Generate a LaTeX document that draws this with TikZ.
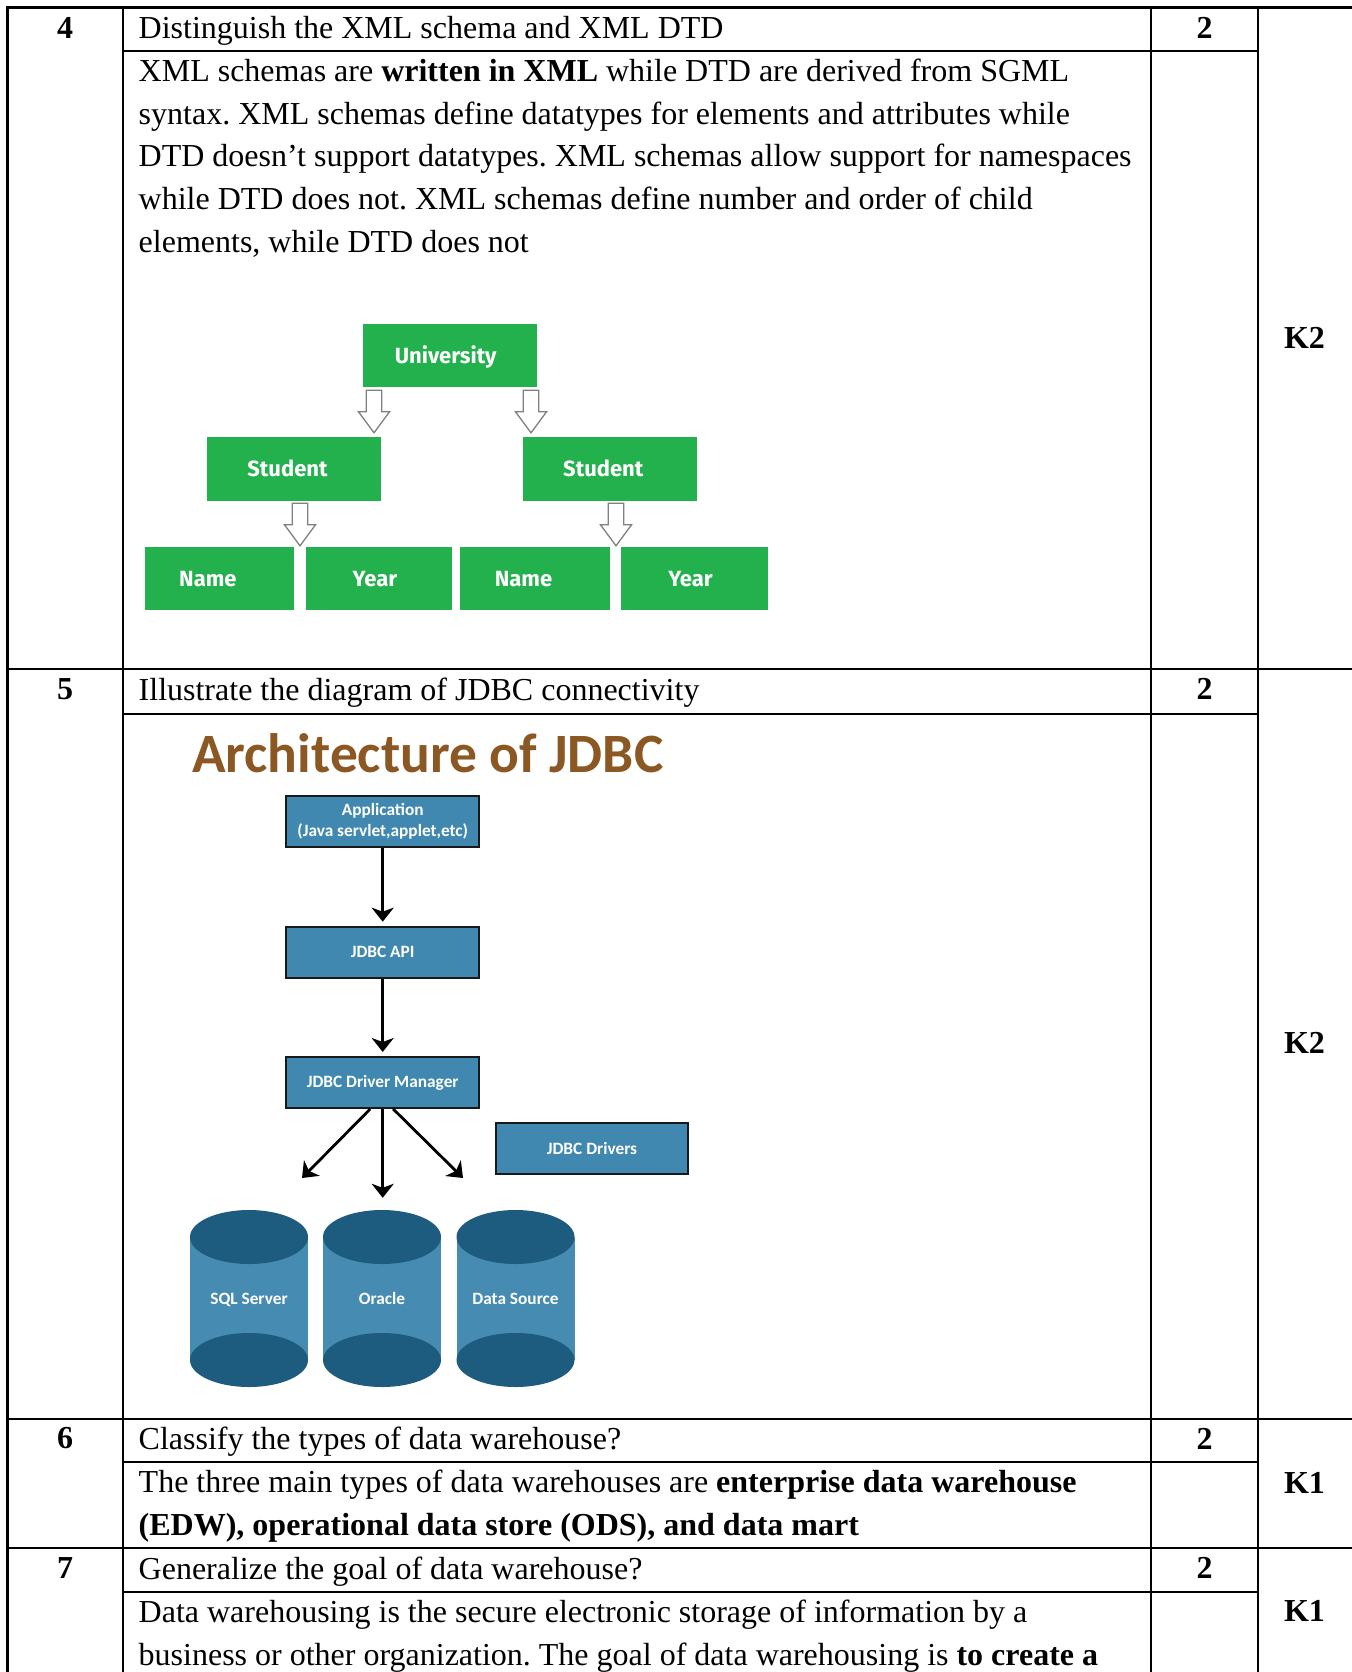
\documentclass[tikz,border=0pt]{standalone}
\usepackage{fontspec}
\setmainfont[Ligatures=Common]{Liberation Serif}
\newfontfamily\calib{Carlito}
\newfontfamily\fira{Fira Sans}
\usetikzlibrary{arrows.meta,calc}

\definecolor{xmlgreen}{RGB}{34,177,76}
\definecolor{arrowgray}{RGB}{128,128,128}
\definecolor{jdbcblue}{RGB}{64,136,175}
\definecolor{boxedge}{RGB}{25,25,25}
\definecolor{cylbody}{RGB}{69,139,178}
\definecolor{cylend}{RGB}{29,92,126}
\definecolor{titlebrown}{RGB}{139,87,34}

% hollow block arrow pointing down, from #1 (top centre) to #2 (tip)
\newcommand\hollowdown[2]{%
  \draw[hollow] let \p1=(#1), \p2=(#2) in
    (\x1-7.7,\y1) -- (\x1+7.7,\y1) -- (\x1+7.7,\y2+21) -- (\x1+15.5,\y2+21)
    -- (\x1,\y2) -- (\x1-15.5,\y2+21) -- (\x1-7.7,\y2+21) -- cycle;}

% database cylinder: #1 node name, #2 centre x, #3 label
\newcommand\dbcyl[3]{%
  \fill[cylbody] (#2-59,1237) rectangle (#2+59,1360);
  \fill[cylend] (#2,1360) ellipse [x radius=59, y radius=27];
  \fill[cylend] (#2,1237) ellipse [x radius=59, y radius=27];
  \node[cyltext, minimum width=118pt, minimum height=177pt] (#1) at (#2,1298.5) {#3};}

\frenchspacing
\begin{document}
\begin{tikzpicture}[x=1pt,y=-1pt,
  grid/.style={line width=2.6pt, line cap=rect},
  txt/.style={anchor=base west, inner sep=0pt, font=\fontsize{32}{42.65}\selectfont},
  num/.style={inner sep=0pt, font=\fontsize{32}{42.65}\selectfont\bfseries},
  xbox/.style={fill=xmlgreen, inner sep=0pt, text=white, text height=15.2pt, text depth=0pt,
    font=\fira\bfseries\fontsize{22}{26}\selectfont},
  hollow/.style={draw=arrowgray, fill=white, line width=1.3pt, line join=miter},
  jbox/.style={draw=boxedge, fill=jdbcblue, line width=2pt, inner sep=0pt, text=white,
    font=\calib\bfseries\fontsize{17.3}{21}\selectfont, minimum width=192.5pt, minimum height=51pt},
  cyltext/.style={inner sep=0pt, text=white, text height=11pt, text depth=0pt,
    font=\calib\bfseries\fontsize{17.3}{21}\selectfont},
  jarrow/.style={line width=2.8pt, -{Stealth[width=22pt,length=14pt,inset=4pt]}},
]
\useasboundingbox (0,0) rectangle (1351,1672);

% ---------- table rules ----------
\foreach \yy in {7.5,669,1419,1548} \draw[grid] (7.5,\yy) -- (1351,\yy);
\foreach \yy in {51,714,1462,1592} \draw[grid] (123,\yy) -- (1258,\yy);
\foreach \xx in {7.5,123,1151,1258} \draw[grid] (\xx,7.5) -- (\xx,1672);

% ---------- row 4 ----------
\node[num] (n4) at (65,27.5) {4};
\node[num] (m4) at (1204.5,27.5) {2};
\node[num] (k4) at (1304.5,338) {K2};
\node[txt] (q4) at (138.5,38.5) {Distinguish the XML schema and XML DTD};
\node[txt] (a4a) at (138.5,81.7) {XML schemas are \textbf{written in XML} while DTD are derived from SGML};
\node[txt] (a4b) at (138.5,124.35) {syntax. XML schemas define datatypes for elements and attributes while};
\node[txt] (a4c) at (138.5,167.0) {DTD doesn't support datatypes. XML schemas allow support for namespaces};
\node[txt] (a4d) at (138.5,209.65) {while DTD does not. XML schemas define number and order of child};
\node[txt] (a4e) at (138.5,252.3) {elements, while DTD does not};

% XML tree
\node[xbox, minimum width=173.5pt, minimum height=63pt] (uni) at (450.2,355.5) {University\kern9pt};
\node[xbox, minimum width=174pt, minimum height=64pt] (stuL) at (294,469) {Student\kern13pt};
\node[xbox, minimum width=174pt, minimum height=64pt] (stuR) at (609.8,469) {Student\kern13pt};
\node[xbox, minimum width=149.7pt, minimum height=63pt] (nameL) at (219.4,578.5) {Name\kern23pt};
\node[xbox, minimum width=146.2pt, minimum height=63pt] (yearL) at (378.9,578.5) {Year\kern8pt};
\node[xbox, minimum width=149.3pt, minimum height=63pt] (nameR) at (535,578.5) {Name\kern23pt};
\node[xbox, minimum width=146.3pt, minimum height=63pt] (yearR) at (694.5,578.5) {Year\kern8pt};

\hollowdown{$(374,0 |- uni.south)+(0,3)$}{$(374,0 |- stuL.north)+(0,-4)$}
\hollowdown{$(531,0 |- uni.south)+(0,3)$}{$(531,0 |- stuR.north)+(0,-4)$}
\hollowdown{$(300,0 |- stuL.south)+(0,2)$}{$(300,0 |- nameL.north)+(0,-1)$}
\hollowdown{$(616,0 |- stuR.south)+(0,2)$}{$(616,0 |- nameR.north)+(0,-1)$}

% ---------- row 5 ----------
\node[num] (n5) at (65,689) {5};
\node[num] (m5) at (1204.5,689) {2};
\node[num] (k5) at (1304.5,1043) {K2};
\node[txt] (q5) at (138.5,700) {Illustrate the diagram of JDBC connectivity};

\node[anchor=base west, inner sep=0pt, text=titlebrown,
  font=\calib\bfseries\fontsize{55.5}{60}\selectfont] (title) at (192,772) {Architecture of JDBC};

\node[jbox, align=center] (app) at (382.7,821.7) {Application\\(Java servlet,applet,etc)};
\node[jbox] (api) at (382.7,952.2) {JDBC API};
\node[jbox] (dm) at (382.7,1082.5) {JDBC Driver Manager};
\node[jbox, minimum width=192pt] (drv) at (592,1148) {JDBC Drivers};

\dbcyl{sql}{249}{SQL Server}
\dbcyl{ora}{382}{Oracle}
\dbcyl{dsrc}{515.5}{Data Source}

\coordinate (tipL) at (302,1178);
\coordinate (tipR) at (463,1178);
\draw[jarrow, shorten >=4pt] (app) -- (api);
\draw[jarrow, shorten >=4pt] (api) -- (dm);
\draw[jarrow] ($(dm.south)+(-12.5,0)$) -- (tipL);
\draw[jarrow, shorten >=12pt] (dm.south) -- (dm.south |- ora.north);
\draw[jarrow] ($(dm.south)+(10.5,0)$) -- (tipR);

% ---------- row 6 ----------
\node[num] (n6) at (65,1438.5) {6};
\node[num] (m6) at (1204.5,1438.5) {2};
\node[num] (k6) at (1304.5,1482.5) {K1};
\node[txt] (q6) at (138.5,1449.5) {Classify the types of data warehouse?};
\node[txt] (a6a) at (138.5,1492.7) {The three main types of data warehouses are \textbf{enterprise data warehouse}};
\node[txt] (a6b) at (138.5,1535.35) {\textbf{(EDW), operational data store (ODS), and data mart}};

% ---------- row 7 ----------
\node[num] (n7) at (65,1568) {7};
\node[num] (m7) at (1204.5,1568) {2};
\node[num] (k7) at (1304.5,1611) {K1};
\node[txt] (q7) at (138.5,1579) {Generalize the goal of data warehouse?};
\node[txt] (a7a) at (138.5,1622.7) {Data warehousing is the secure electronic storage of information by a};
\node[txt] (a7b) at (138.5,1665.35) {business or other organization. The goal of data warehousing is \textbf{to create a}};
\end{tikzpicture}
\end{document}
